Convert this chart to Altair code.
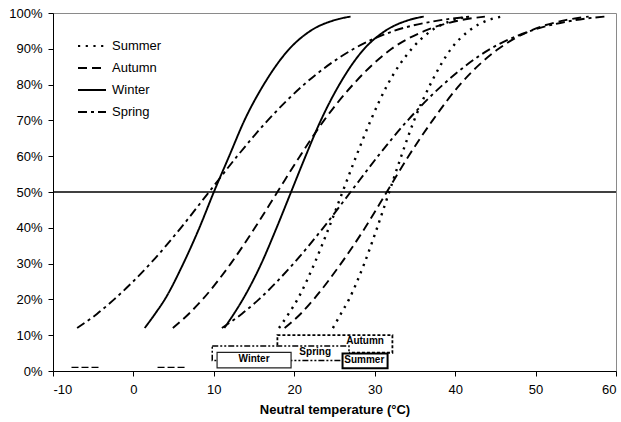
import altair as alt
import pandas as pd

# ---- data ----
cum_share = [0.12, 0.16, 0.20, 0.30, 0.40, 0.50, 0.60, 0.70, 0.80, 0.90, 0.95, 0.98, 0.99]

winter_a = [1.4, 2.7, 3.9, 6.2, 8.2, 10.0, 11.9, 13.8, 16.2, 19.4, 22.0, 25.0, 27.0]
winter_b = [11.3, 12.5, 13.6, 15.9, 17.8, 19.6, 21.4, 23.3, 25.6, 28.7, 31.3, 34.2, 36.1]
spring_a = [-7.0, -4.5, -2.4, 2.1, 5.9, 9.4, 12.9, 16.7, 21.2, 27.4, 32.4, 38.2, 42.0]
spring_b = [11.0, 13.5, 15.6, 19.9, 23.6, 27.0, 30.4, 34.1, 38.5, 44.4, 49.4, 54.9, 58.6]
autumn_a = [4.9, 6.9, 8.6, 12.1, 15.1, 17.9, 20.7, 23.7, 27.3, 32.1, 36.2, 40.7, 43.7]
autumn_b = [18.8, 20.8, 22.4, 25.8, 28.8, 31.5, 34.2, 37.2, 40.6, 45.4, 49.3, 53.7, 56.6]
summer_a = [18.1, 19.3, 20.4, 22.5, 24.3, 26.0, 27.7, 29.5, 31.6, 34.6, 37.0, 39.8, 41.6]
summer_b = [24.8, 25.8, 26.8, 28.7, 30.3, 31.8, 33.3, 34.9, 36.9, 39.5, 41.7, 44.1, 45.8]

seasons = ["Summer", "Autumn", "Winter", "Spring"]

x_ticks = [-10, 0, 10, 20, 30, 40, 50, 60]
y_ticks = [0.0, 0.1, 0.2, 0.3, 0.4, 0.5, 0.6, 0.7, 0.8, 0.9, 1.0]

# small stray fragments near the bottom of the reference
fragment_id = ["f1", "f1", "f2", "f2"]
fragment_temp = [-7.7, -4.2, 3.0, 6.6]
fragment_share = [0.01, 0.01, 0.01, 0.01]

# range boxes (neutral temperature ranges) - order of drawing
box_season = ["Autumn", "Spring", "Winter", "Summer"]
box_lo = [17.9, 9.8, 10.4, 26.0]
box_hi = [32.2, 26.8, 19.6, 31.6]
box_bottom = [0.051, 0.029, 0.009, 0.008]
box_top = [0.100, 0.070, 0.052, 0.049]
label_x = [28.8, 22.6, 15.0, 28.7]
label_y = [0.084, 0.052, 0.034, 0.031]

reference_share = [0.5]

curves = {
    ("Winter", "Winter A"): winter_a,
    ("Winter", "Winter B"): winter_b,
    ("Spring", "Spring A"): spring_a,
    ("Spring", "Spring B"): spring_b,
    ("Autumn", "Autumn A"): autumn_a,
    ("Autumn", "Autumn B"): autumn_b,
    ("Summer", "Summer A"): summer_a,
    ("Summer", "Summer B"): summer_b,
}

rows = []
for (season, name), temps in curves.items():
    for t, p in zip(temps, cum_share):
        rows.append({"season": season, "curve": name, "temp": t, "share": p})
df = pd.DataFrame(rows)

frag = pd.DataFrame({"id": fragment_id, "temp": fragment_temp, "share": fragment_share})

boxes = pd.DataFrame({
    "season": box_season, "lo": box_lo, "hi": box_hi,
    "bottom": box_bottom, "top": box_top, "lx": label_x, "ly": label_y,
})

FONT = "Liberation Sans"

xscale = alt.Scale(domain=[-10, 60], nice=False, zero=False)
yscale = alt.Scale(domain=[0, 1], nice=False)
xaxis = alt.Axis(title="Neutral temperature (°C)", values=x_ticks,
                 labelExpr="datum.value + ''", labelOverlap=False)
yaxis = alt.Axis(title=None, format=".0%", values=y_ticks, labelOverlap=False,
                 tickCount=11)


def X(field):
    return alt.X(field, type="quantitative", scale=xscale, axis=xaxis)


def Y(field):
    return alt.Y(field, type="quantitative", scale=yscale, axis=yaxis)


line_base = alt.Chart(df).encode(
    x=X("temp"),
    y=Y("share"),
    strokeDash=alt.StrokeDash(
        "season:N",
        scale=alt.Scale(domain=seasons,
                        range=[[2.2, 5.5], [9, 5], [1, 0], [9, 4, 3, 4]]),
        legend=alt.Legend(
            title=None, orient="none", legendX=24, legendY=18,
            symbolType="stroke", symbolSize=784, symbolStrokeWidth=2,
            symbolStrokeColor="black", labelFont=FONT, labelFontSize=13,
            labelColor="black", rowPadding=-9, labelOffset=5, padding=0,
        ),
    ),
    detail="curve:N",
)

lines = line_base.transform_filter(alt.datum.season != "Summer").mark_line(
    color="black", strokeWidth=1.9, interpolate="monotone", clip=True
)
dotted = line_base.transform_filter(alt.datum.season == "Summer").mark_line(
    color="black", strokeWidth=2.4, interpolate="monotone", clip=True
)

fragments = alt.Chart(frag).mark_line(
    color="black", strokeWidth=1.2, strokeDash=[7, 3]
).encode(x=X("temp"), y=Y("share"), detail="id:N")

ref_line = alt.Chart(pd.DataFrame({"share": reference_share})).mark_rule(
    color="black", strokeWidth=1.3
).encode(y=Y("share"))

box_styles = {
    "Autumn": dict(stroke="black", strokeWidth=1.8, strokeDash=[3, 2]),
    "Spring": dict(stroke="black", strokeWidth=1.5, strokeDash=[6, 2, 2, 2, 2, 2]),
    "Winter": dict(stroke="#222222", strokeWidth=1.2),
    "Summer": dict(stroke="black", strokeWidth=2),
}

box_layers = []
for s in box_season:
    box_layers.append(
        alt.Chart(boxes).transform_filter(alt.datum.season == s).mark_rect(
            fill="white", **box_styles[s]
        ).encode(
            x=X("lo"), x2="hi:Q",
            y=Y("bottom"), y2="top:Q",
        )
    )

labels = alt.Chart(boxes).mark_text(
    font=FONT, fontSize=10, fontWeight="bold", color="black",
    align="center", baseline="middle"
).encode(x=X("lx"), y=Y("ly"), text="season:N")

chart = alt.layer(lines, dotted, fragments, ref_line, *box_layers, labels).properties(
    width=563, height=358,
    autosize=alt.AutoSizeParams(type="none"),
    padding={"left": 53, "top": 13, "right": 5, "bottom": 51},
    background="white",
).configure_view(
    stroke="#8a8a8a", strokeWidth=1
).configure_axis(
    grid=False, domainColor="black", tickColor="black", tickSize=5,
    labelFont=FONT, labelFontSize=13, labelColor="black",
    titleFont=FONT, titleFontSize=13, titleFontWeight="bold", titleColor="black",
).configure_axisX(
    labelPadding=7, titlePadding=7
).configure_axisY(
    labelPadding=6
)

chart.save("out.html", embed_options={"renderer": "svg", "actions": False})
